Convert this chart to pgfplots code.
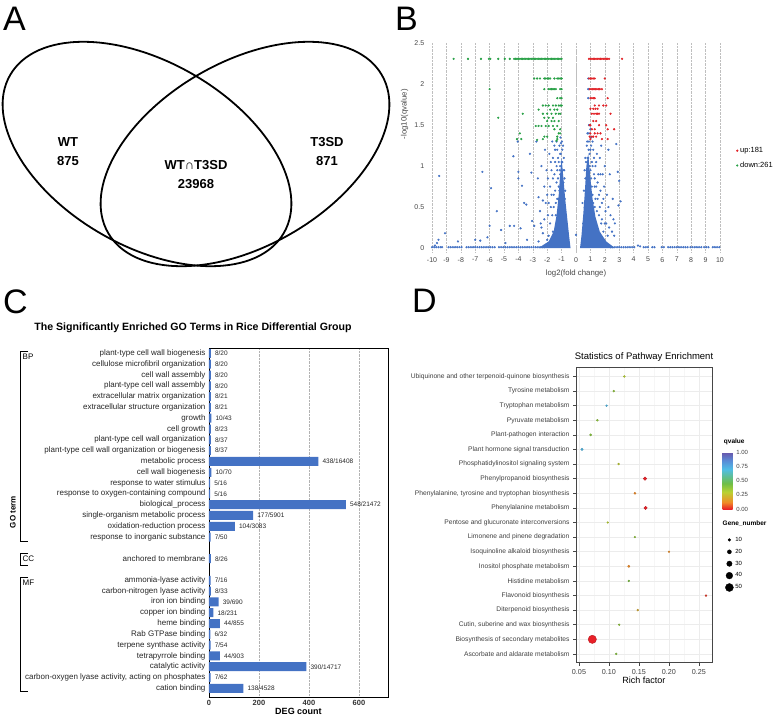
\documentclass[border=0pt]{standalone}
\usepackage{pgfplots}
\pgfplotsset{compat=1.18}
\usepackage{pgfplotstable}
\usepackage{fontspec}
\setmainfont{Liberation Sans}
\definecolor{barblue}{RGB}{68,114,196}
\definecolor{volred}{RGB}{225,35,40}
\definecolor{volgreen}{RGB}{40,160,70}
\definecolor{axgray}{RGB}{70,70,70}
\newcommand\fs[1]{\fontsize{#1}{#1}\selectfont}
\pgfplotsset{
  /pgf/number format/assume math mode=true,
  colormap={qv}{rgb255(0cm)=(232,32,40) rgb255(1.2cm)=(240,140,40) rgb255(3cm)=(185,210,50)
    rgb255(4.5cm)=(110,190,70) rgb255(7cm)=(80,190,230) rgb255(8.5cm)=(90,140,215) rgb255(10cm)=(105,85,170)},
}

% GO terms: row index (top = 0), DEG count, label
\pgfplotstableread{
idx cnt lab
0 8 8/20
1 8 8/20
2 8 8/20
3 8 8/20
4 8 8/21
5 8 8/21
6 10 10/43
7 8 8/23
8 8 8/37
9 8 8/37
10 438 438/16408
11 10 10/70
12 5 5/16
13 5 5/16
14 548 548/21472
15 177 177/5901
16 104 104/3083
17 7 7/50
19 8 8/26
21 7 7/16
22 8 8/33
23 39 39/690
24 18 18/231
25 44 44/855
26 6 6/32
27 7 7/54
28 44 44/903
29 390 390/14717
30 7 7/62
31 138 138/4528
}\goterms

% KEGG pathways: position (bottom = 1), rich factor, qvalue, gene number
\pgfplotstableread{
pos rf q n
1 0.112 0.40 4
2 0.0722 0.00 52
3 0.117 0.38 3
4 0.148 0.20 3
5 0.2617 0.03 4
6 0.133 0.42 3
7 0.133 0.12 7
8 0.200 0.13 3
9 0.143 0.38 2
10 0.098 0.30 3
11 0.161 0.00 15
12 0.1433 0.12 5
13 0.160 0.00 16
14 0.116 0.28 4
15 0.055 0.72 8
16 0.0694 0.40 6
17 0.0806 0.38 4
18 0.096 0.72 3
19 0.108 0.38 4
20 0.1255 0.30 4
}\pathways

\begin{document}
\begin{tikzpicture}[x=1pt,y=1pt]
\path[use as bounding box] (0,0) rectangle (780,718);

% panel letters
\node[anchor=north west, inner sep=0, font=\fs{34}] at (3,711) {A};
\node[anchor=north west, inner sep=0, font=\fs{34}] at (395,711) {B};
\node[anchor=north west, inner sep=0, font=\fs{34}] at (3,428) {C};
\node[anchor=north west, inner sep=0, font=\fs{34}] at (412,429) {D};

% ---------- A: Venn ----------
\draw[line width=1.8pt, rotate around={-30:(147,564)}] (147,564) ellipse (158 and 92);
\draw[line width=1.8pt, rotate around={30:(245,564)}] (245,564) ellipse (158 and 92);
\node[align=center, font=\bfseries\fs{13}] at (68,566) {WT\\[6pt]875};
\node[align=center, font=\bfseries\fs{13}] at (196,543) {WT∩T3SD\\[6pt]23968};
\node[align=center, font=\bfseries\fs{13}] at (327,566) {T3SD\\[6pt]871};

% ---------- B: volcano ----------
\begin{axis}[
  at={(427.7pt,465.9pt)}, anchor=south west,
  scale only axis, width=296.6pt, height=208.8pt,
  xmin=-10.3, xmax=10.3, ymin=-0.05, ymax=2.5,
  xtick={-10,-9,-8,-7,-6,-5,-4,-3,-2,-1,0,1,2,3,4,5,6,7,8,9,10},
  xticklabels={-10,-9,-8,-7,-6,-5,-4,-3,-2,-1,0,1,2,3,4,5,6,7,8,9,10},
  ytick={0,0.5,1,1.5,2,2.5}, yticklabels={0,0.5,1,1.5,2,2.5},
  xmajorgrids, x grid style={densely dotted, gray!50},
  extra x ticks={0}, extra x tick labels={},
  extra x tick style={major grid style={solid, gray!55, line width=0.7pt}},
  axis line style={draw=none}, major tick length=0pt,
  ticklabel style={font=\fs{7}, text=axgray},
  xticklabel style={yshift=-1.5pt},
  xlabel={log2(fold change)}, ylabel={-log10(qvalue)},
  label style={font=\fs{7.8}, text=axgray},
  xlabel style={yshift=-1pt},
  ylabel style={at={(axis description cs:-0.078,0.66)}, anchor=center},
  legend style={draw=none, fill=none, at={(1.03,0.45)}, anchor=west,
    font=\fs{7.5}, row sep=4pt, legend cell align=left},
]
% dense cores of the two wedges
\addplot[fill=barblue, draw=none, forget plot] coordinates {
 (-2.6,0) (-1.9,0.08) (-1.55,0.2) (-1.35,0.4) (-1.2,0.65) (-1.1,0.9) (-1.0,1.1)
 (-0.9,0.9) (-0.75,0.6) (-0.6,0.35) (-0.48,0.15) (-0.38,0)} -- cycle;
\addplot[fill=barblue, draw=none, forget plot] coordinates {
 (0.28,0) (0.38,0.15) (0.5,0.4) (0.62,0.7) (0.72,1.0) (0.85,1.15) (1.0,0.85)
 (1.15,0.6) (1.35,0.38) (1.65,0.2) (2.1,0.08) (2.7,0)} -- cycle;
% not significant genes
\addplot[only marks, mark=*, mark size=0.9pt, color=barblue, forget plot] coordinates {
 (-10,0.01)(-9.85,0.01)(-9.7,0.01)(-9.55,0.01)(-9.4,0.01)(-9.3,0.01)
 (-8.85,0.01)(-8.7,0.01)(-8.55,0.01)(-8.4,0.01)(-8.25,0.01)(-8.1,0.01)(-7.95,0.01)
 (-7.6,0.01)(-7.45,0.01)(-7.3,0.01)(-7.15,0.01)(-7.0,0.01)(-6.85,0.01)(-6.7,0.01)(-6.55,0.01)
 (-6.4,0.01)(-6.25,0.01)(-6.1,0.01)(-5.95,0.01)(-5.8,0.01)(-5.65,0.01)
 (-5.35,0.01)(-5.2,0.01)(-5.05,0.01)(-4.9,0.01)(-4.75,0.01)(-4.6,0.01)(-4.45,0.01)(-4.3,0.01)
 (-4.15,0.01)(-4.0,0.01)(-3.85,0.01)(-3.7,0.01)(-3.55,0.01)(-3.4,0.01)(-3.25,0.01)(-3.1,0.01)
 (-2.95,0.01)(-2.8,0.01)(-2.65,0.01)(-2.5,0.01)(-2.35,0.01)(-2.2,0.01)
 (2.4,0.01)(2.55,0.01)(2.7,0.01)(2.85,0.01)(3.0,0.01)(3.15,0.01)(3.3,0.01)(3.45,0.01)
 (3.6,0.01)(3.75,0.01)(3.9,0.01)(4.05,0.01)(4.3,0.03)(4.45,0.02)(4.7,0.01)(4.85,0.01)(5.0,0.01)
 (5.3,0.01)(5.45,0.01)(5.95,0.01)(6.1,0.01)(6.4,0.01)(6.55,0.01)(6.7,0.01)(6.85,0.01)(7.0,0.01)
 (7.15,0.01)(7.3,0.01)(7.45,0.01)(7.6,0.01)(7.75,0.01)(7.95,0.01)(8.1,0.01)(8.25,0.01)(8.4,0.01)
 (8.55,0.01)(8.7,0.01)(8.9,0.01)(9.05,0.01)(9.2,0.01)(9.5,0.01)(9.65,0.01)(9.8,0.01)(9.95,0.01)
 (-9.5,0.88)(-9.8,0.03)(-9.65,0.06)(-9.55,0.1)(-9.1,0.18)(-8.2,0.08)(-7.0,0.1)(-6.65,0.09)
 (-6.15,0.13)(-6.0,0.27)(-6.5,0.93)(-5.9,0.73)(-5.5,0.45)(-5.2,0.22)(-4.9,0.06)(-4.6,0.27)
 (-4.3,0.27)(-4.35,1.12)(-4.05,1.3)(-4.0,0.93)(-4.0,0.85)(-3.75,0.76)(-3.6,0.55)(-3.45,0.53)
 (-3.85,0.24)(-3.2,1.15)(-3.1,0.92)(-3.05,0.33)(-2.9,0.27)(-2.75,1.3)(-2.65,0.85)(-2.6,0.62)
 (-2.5,0.45)(-2.45,0.3)(-2.4,0.25)(-2.3,0.18)(-2.2,0.75)(-2.1,0.55)(-2.05,0.95)(-1.95,0.4)
 (-1.9,0.15)(-1.8,0.3)(-1.75,1.05)(-1.7,0.65)(-1.6,0.85)(-1.55,0.5)(-1.5,1.25)(-1.45,0.7)
 (-1.4,0.4)(-1.35,1.0)(-1.3,0.6)(-1.3,1.2)(-1.25,0.85)(-1.2,1.05)(-1.2,0.45)(-1.15,0.7)
 (-1.1,1.15)(-1.1,0.9)(-1.05,1.28)(-1.0,1.05)(-0.95,1.2)(-0.9,0.95)(-1.0,0.75)(-0.85,1.1)
 (-0.8,0.85)(-0.75,0.7)(-1.4,0.2)(-1.6,0.2)(-2.0,0.1)(-2.6,0.08)(-3.4,0.1)(-2.15,1.2)
 (-1.85,1.15)(-1.65,1.3)(-2.4,1.0)(-1.95,0.85)(-2.3,0.58)(-1.05,0.6)(-0.95,0.5)(-1.15,0.55)
 (-1.25,0.3)(-0.85,0.45)(-0.7,0.4)(-0.65,0.25)(-1.0,0.4)(-1.12,0.95)(-0.92,0.68)
 (-1.9,0.55)(-1.8,0.75)(-1.7,0.95)(-1.6,1.1)(-1.55,0.65)(-1.5,0.9)(-1.45,1.05)(-1.4,0.55)
 (-1.35,0.8)(-1.3,0.95)(-1.25,1.1)(-1.2,0.75)(-1.15,1.25)(-1.1,1.0)(-1.05,1.15)(-1.0,0.9)
 (-0.95,1.05)(-0.9,1.25)(-0.88,0.8)(-0.82,0.95)(-0.78,0.6)(-1.45,1.2)(-1.75,0.5)(-2.0,0.65)
 (-2.2,0.35)(-1.65,0.4)(-1.35,1.3)(-1.08,1.35)(-0.98,1.3)(-1.22,0.6)
 (0.45,0.55)(0.55,0.7)(0.6,0.95)(0.65,1.1)(0.7,0.6)(0.75,1.25)(0.8,0.9)(0.85,1.1)(0.9,1.3)
 (0.95,1.0)(1.0,1.2)(1.05,0.85)(1.1,1.05)(1.15,0.65)(1.2,1.2)(1.25,0.9)(1.3,0.5)(1.35,1.0)
 (1.4,0.75)(1.45,1.15)(1.5,0.6)(1.55,0.9)(1.6,0.4)(1.65,1.1)(1.7,0.7)(1.75,0.3)(1.8,0.55)
 (1.85,0.9)(1.9,0.2)(1.95,0.75)(2.0,1.0)(2.05,0.45)(2.1,0.3)(2.15,0.65)(2.2,0.15)(2.25,0.5)
 (2.3,0.25)(2.35,0.9)(2.4,0.4)(2.5,0.2)(2.55,0.6)(2.6,0.35)(2.65,0.15)(2.8,1.27)(2.9,0.93)
 (3.0,0.82)(3.1,0.57)(2.95,0.52)(2.7,0.3)(2.25,1.2)(1.75,1.25)(1.25,0.35)(0.95,0.6)(1.1,0.45)
 (1.0,0.3)(0.5,0.3)(0.0,0.16)(0.85,0.55)(1.15,0.25)(1.3,0.75)(0.7,0.85)(0.8,1.4)(0.9,1.5)
 (1.0,1.45)(0.85,1.83)(0.85,1.94)(0.85,2.07)
 (0.6,0.5)(0.65,0.85)(0.7,1.05)(0.75,0.75)(0.8,1.1)(0.85,0.95)(0.88,1.2)(0.92,0.75)
 (0.95,1.15)(1.0,0.95)(1.05,1.25)(1.1,0.75)(1.15,1.0)(1.2,0.55)(1.25,1.1)(1.3,0.85)
 (1.35,0.6)(1.4,1.05)(1.45,0.45)(1.5,0.8)(1.6,0.65)(1.65,0.5)(1.7,0.9)(1.8,0.35)
 (1.9,0.6)(2.0,0.3)(0.78,1.3)(0.9,1.4)(1.05,1.35)(1.15,1.3)
};
% up-regulated
\addplot[only marks, mark=*, mark size=0.9pt, color=volred] coordinates {
 (0.9,2.31)(1.0,2.31)(1.1,2.31)(1.2,2.31)(1.3,2.31)(1.4,2.31)(1.5,2.31)(1.6,2.31)(1.7,2.31)
 (1.8,2.31)(1.9,2.31)(2.0,2.31)(2.1,2.31)(2.2,2.31)(2.3,2.31)(3.2,2.31)
 (0.9,2.07)(1.0,2.07)(1.1,2.07)(1.2,2.07)(1.3,2.07)(2.0,2.07)
 (0.95,1.94)(1.05,1.94)(1.15,1.94)(1.25,1.94)(1.35,1.94)(1.45,1.94)(1.55,1.94)(1.65,1.94)(1.8,1.94)
 (1.0,1.83)(1.1,1.83)(1.2,1.83)(1.3,1.83)(2.2,1.83)
 (1.3,1.74)(1.6,1.74)(1.9,1.74)(2.1,1.74)
 (1.0,1.70)(1.2,1.70)(1.35,1.70)(1.5,1.70)
 (1.1,1.64)(1.25,1.64)(1.4,1.64)(1.5,1.64)(1.6,1.64)(2.4,1.64)
 (1.2,1.55)(1.4,1.55)
 (0.95,1.50)(1.0,1.50)(1.6,1.50)(2.1,1.50)
 (1.1,1.45)(1.3,1.45)(2.2,1.45)(2.65,1.45)
 (1.0,1.40)(1.3,1.40)(1.5,1.40)(1.7,1.40)
 (0.95,1.36)(1.1,1.36)(1.2,1.36)(1.4,1.36)
 (1.0,1.33)(1.8,1.33)(2.2,1.33)
};
\addlegendentry{up:181}
% down-regulated
\addplot[only marks, mark=*, mark size=0.9pt, color=volgreen] coordinates {
 (-8.5,2.31)(-7.5,2.31)(-6.6,2.31)(-6.05,2.31)(-5.95,2.31)(-5.4,2.31)(-4.95,2.31)(-4.6,2.31)
 (-4.3,2.31)(-4.2,2.31)(-4.1,2.31)(-4.0,2.31)(-3.9,2.31)(-3.8,2.31)(-3.7,2.31)(-3.6,2.31)
 (-3.5,2.31)(-3.4,2.31)(-3.3,2.31)(-3.2,2.31)(-3.1,2.31)(-3.0,2.31)(-2.9,2.31)(-2.8,2.31)
 (-2.7,2.31)(-2.6,2.31)(-2.5,2.31)(-2.4,2.31)(-2.3,2.31)(-2.2,2.31)(-2.1,2.31)(-2.0,2.31)
 (-1.9,2.31)(-1.8,2.31)(-1.7,2.31)(-1.6,2.31)(-1.5,2.31)(-1.4,2.31)(-1.3,2.31)(-1.2,2.31)
 (-1.1,2.31)(-1.0,2.31)
 (-2.9,2.07)(-2.7,2.07)(-2.5,2.07)(-2.2,2.07)(-2.1,2.07)(-2.0,2.07)(-1.9,2.07)(-1.8,2.07)
 (-1.5,2.07)(-1.3,2.07)(-1.2,2.07)(-1.1,2.07)(-1.0,2.07)
 (-6.0,1.94)(-2.2,1.94)(-1.9,1.94)(-1.8,1.94)(-1.7,1.94)(-1.6,1.94)(-1.5,1.94)(-1.4,1.94)
 (-1.1,1.94)(-1.0,1.94)
 (-1.3,1.83)(-1.1,1.83)(-1.0,1.83)
 (-2.3,1.74)(-2.1,1.74)(-1.9,1.74)(-1.6,1.74)(-1.4,1.74)(-1.2,1.74)(-1.1,1.74)(-1.0,1.74)
 (-2.6,1.69)(-1.8,1.69)(-1.5,1.69)(-1.3,1.69)
 (-3.7,1.64)(-2.3,1.64)(-2.0,1.64)(-1.7,1.64)(-1.4,1.64)(-1.2,1.64)(-1.1,1.64)
 (-5.4,1.59)(-2.2,1.59)(-1.9,1.59)(-1.6,1.59)
 (-2.0,1.55)(-1.7,1.55)(-1.5,1.55)(-1.2,1.55)
 (-2.8,1.49)(-2.6,1.49)(-2.4,1.49)(-2.1,1.49)(-1.9,1.49)(-1.6,1.49)(-1.3,1.49)
 (-1.5,1.45)(-1.1,1.45)
 (-3.9,1.40)(-1.2,1.40)(-1.1,1.40)
 (-2.2,1.36)(-2.0,1.36)(-1.3,1.36)
 (-4.1,1.33)(-3.8,1.33)(-2.3,1.33)(-1.3,1.33)(-2.7,1.32)(-1.35,1.31)
};
\addlegendentry{down:261}
\end{axis}

% ---------- C: GO bar chart ----------
\node[font=\bfseries\fs{10.6}] at (193,390) {The Significantly Enriched GO Terms in Rice Differential Group};
\begin{axis}[
  at={(209pt,21pt)}, anchor=south west,
  scale only axis, width=179pt, height=349pt,
  xbar, bar width=9pt,
  xmin=0, xmax=716, ymin=-0.5, ymax=31.8, y dir=reverse,
  xtick={0,200,400,600}, xticklabels={0,200,400,600},
  ytick={0,1,2,3,4,5,6,7,8,9,10,11,12,13,14,15,16,17,19,21,22,23,24,25,26,27,28,29,30,31},
  yticklabels={plant-type cell wall biogenesis, cellulose microfibril organization,
    cell wall assembly, plant-type cell wall assembly, extracellular matrix organization,
    extracellular structure organization, growth, cell growth,
    plant-type cell wall organization, plant-type cell wall organization or biogenesis,
    metabolic process, cell wall biogenesis, response to water stimulus,
    response to oxygen-containing compound, biological\_process,
    single-organism metabolic process, oxidation-reduction process,
    response to inorganic substance, anchored to membrane,
    ammonia-lyase activity, carbon-nitrogen lyase activity, iron ion binding,
    copper ion binding, heme binding, Rab GTPase binding, terpene synthase activity,
    tetrapyrrole binding, catalytic activity,
    {carbon-oxygen lyase activity, acting on phosphates}, cation binding},
  yticklabel style={font=\fs{8}, text=black!85},
  xticklabel style={font=\bfseries\fs{7.5}, text=black!80},
  xmajorgrids, x grid style={densely dotted, gray!60},
  major tick length=0pt,
  axis line style={black, line width=0.8pt},
  point meta=explicit symbolic,
  nodes near coords,
  nodes near coords style={font=\fs{6.5}, anchor=west, xshift=0.5pt, text=black!85},
  xlabel={DEG count}, xlabel style={font=\bfseries\fs{9}, yshift=4pt},
  ylabel={GO term}, ylabel style={font=\bfseries\fs{8}, at={(axis description cs:-1.095,0.53)}, anchor=center},
]
\addplot[fill=barblue, draw=none] table[x=cnt, y=idx, meta=lab] {\goterms};
\end{axis}
% category brackets
\draw[line width=1pt] (28,366) -- (20,366) -- (20,176.5) -- (28,176.5);
\draw[line width=1pt] (28,164) -- (20,164) -- (20,152) -- (28,152);
\draw[line width=1pt] (28,140) -- (20,140) -- (20,26) -- (28,26);
\node[anchor=north west, inner sep=0, font=\fs{8}] at (22.5,364.5) {BP};
\node[anchor=north west, inner sep=0, font=\fs{8}] at (22.5,162.5) {CC};
\node[anchor=north west, inner sep=0, font=\fs{8}] at (22.5,138.5) {MF};

% ---------- D: pathway enrichment ----------
\node[anchor=west, inner sep=0, font=\bfseries\fs{6.5}] at (722.5,194) {Gene\_number};
\begin{axis}[
  at={(576pt,55.3pt)}, anchor=south west,
  scale only axis, width=136pt, height=295pt,
  xmin=0.045, xmax=0.2717, ymin=0.4, ymax=20.6,
  xtick={0.05,0.1,0.15,0.2,0.25}, xticklabels={0.05,0.10,0.15,0.20,0.25},
  minor xtick={0.075,0.125,0.175,0.225},
  ytick={1,2,3,4,5,6,7,8,9,10,11,12,13,14,15,16,17,18,19,20},
  yticklabels={Ascorbate and aldarate metabolism, Biosynthesis of secondary metabolites,
    {Cutin, suberine and wax biosynthesis}, Diterpenoid biosynthesis, Flavonoid biosynthesis,
    Histidine metabolism, Inositol phosphate metabolism, Isoquinoline alkaloid biosynthesis,
    Limonene and pinene degradation, Pentose and glucuronate interconversions,
    Phenylalanine metabolism, {Phenylalanine, tyrosine and tryptophan biosynthesis},
    Phenylpropanoid biosynthesis, Phosphatidylinositol signaling system,
    Plant hormone signal transduction, Plant-pathogen interaction, Pyruvate metabolism,
    Tryptophan metabolism, Tyrosine metabolism,
    Ubiquinone and other terpenoid-quinone biosynthesis},
  yticklabel style={font=\fs{6.7}, text=black!75},
  xticklabel style={font=\fs{7.2}, text=black!75},
  grid=both, major grid style={gray!15, line width=0.5pt}, minor grid style={gray!7, line width=0.4pt},
  axis line style={gray!55!black, line width=0.8pt},
  tick align=outside, tick pos=left, major tick length=3pt, minor tick length=0pt,
  tick style={gray!55!black, line width=0.6pt},
  title={Statistics of Pathway Enrichment}, title style={font=\fs{9.5}, yshift=-3pt},
  xlabel={Rich factor}, xlabel style={font=\fs{9}, yshift=4pt},
  colormap name=qv, point meta min=0, point meta max=1,
  colorbar,
  colorbar style={at={(1.079,0.714)}, anchor=north west, scale only axis, width=10pt, height=57pt,
    ytick={0,0.25,0.5,0.75,1}, yticklabels={0.00,0.25,0.50,0.75,1.00},
    yticklabel style={font=\fs{6}, text=black!75}, major tick length=0pt, axis line style={draw=none},
    title={qvalue}, title style={at={(0,1)}, anchor=south west, inner sep=1pt, font=\bfseries\fs{6.5}}},
  legend style={draw=none, fill=none, at={(1.075,0.44)}, anchor=north west,
    font=\fs{6}, row sep=2.2pt, legend cell align=left},
]
\addplot[scatter, only marks, mark=*, forget plot, point meta=explicit,
  visualization depends on={\thisrow{n}\as\gn},
  scatter/@pre marker code/.append style={/tikz/mark size={(0.7+0.066*\gn)*1pt}, /tikz/draw=none}]
  table[x=rf, y=pos, meta=q] {\pathways};
\addlegendimage{only marks, mark=*, black, mark size=1.36pt}\addlegendentry{10}
\addlegendimage{only marks, mark=*, black, mark size=2.02pt}\addlegendentry{20}
\addlegendimage{only marks, mark=*, black, mark size=2.68pt}\addlegendentry{30}
\addlegendimage{only marks, mark=*, black, mark size=3.34pt}\addlegendentry{40}
\addlegendimage{only marks, mark=*, black, mark size=4.0pt}\addlegendentry{50}
\end{axis}
\end{tikzpicture}
\end{document}
